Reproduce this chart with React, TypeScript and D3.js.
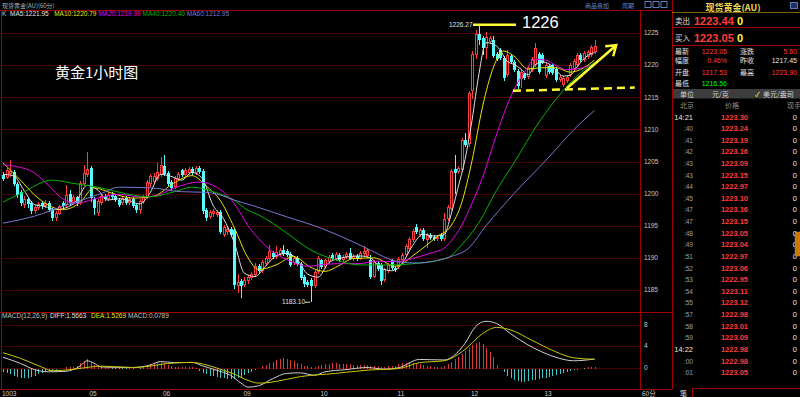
import React from 'react';
import * as d3 from 'd3';

// 60分钟K线: [开, 高, 低, 收]
const candles: number[][] = [
  [1202.9, 1203.3, 1201.9, 1202.2], [1202.5, 1204.0, 1202.2, 1203.7], [1203.0, 1205.2, 1202.6, 1203.5], [1203.3, 1203.6, 1201.2, 1201.5],
  [1201.5, 1201.8, 1199.3, 1199.8], [1200.2, 1200.5, 1198.0, 1198.5], [1198.2, 1199.6, 1197.8, 1199.2], [1199.2, 1199.5, 1197.7, 1198.4],
  [1198.5, 1198.8, 1196.8, 1197.3], [1197.3, 1198.2, 1196.9, 1197.9], [1197.8, 1198.7, 1197.4, 1198.4], [1198.5, 1198.8, 1197.6, 1198.0],
  [1198.0, 1199.0, 1197.7, 1198.6], [1198.6, 1198.9, 1197.2, 1197.5], [1197.4, 1197.7, 1195.8, 1196.2], [1196.2, 1197.3, 1195.7, 1197.0],
  [1196.9, 1198.3, 1196.6, 1198.0], [1198.6, 1198.9, 1197.6, 1198.0], [1198.2, 1201.3, 1197.9, 1199.8], [1199.9, 1200.5, 1198.3, 1198.6],
  [1198.6, 1199.8, 1198.2, 1199.4], [1199.4, 1199.7, 1198.1, 1198.5], [1198.6, 1202.0, 1198.3, 1201.6], [1201.5, 1204.5, 1201.2, 1203.2],
  [1202.9, 1206.5, 1202.6, 1203.9], [1204.0, 1204.3, 1198.7, 1199.3], [1199.2, 1199.5, 1196.7, 1197.8], [1197.0, 1199.2, 1196.5, 1198.8],
  [1198.6, 1200.0, 1198.3, 1199.6], [1199.6, 1200.0, 1198.9, 1199.2], [1199.2, 1200.2, 1198.9, 1199.8], [1199.8, 1200.3, 1199.2, 1199.5],
  [1199.7, 1200.0, 1198.7, 1199.0], [1199.0, 1199.3, 1197.9, 1198.3], [1198.5, 1199.6, 1198.2, 1199.3], [1199.3, 1199.6, 1198.3, 1198.6],
  [1198.6, 1199.5, 1198.3, 1199.1], [1199.1, 1199.4, 1197.8, 1198.1], [1198.2, 1198.5, 1197.0, 1197.5], [1197.5, 1199.2, 1196.8, 1198.9],
  [1198.7, 1199.8, 1198.4, 1199.4], [1199.4, 1202.1, 1199.1, 1201.8], [1201.5, 1203.0, 1201.1, 1202.7], [1201.8, 1203.2, 1201.5, 1202.8],
  [1202.3, 1204.8, 1202.0, 1203.4], [1202.9, 1205.7, 1202.6, 1204.4], [1204.3, 1206.0, 1202.8, 1203.1], [1203.2, 1203.5, 1201.2, 1201.5],
  [1201.8, 1202.1, 1200.4, 1200.9], [1201.0, 1202.7, 1200.7, 1202.4], [1202.2, 1203.3, 1201.9, 1203.0], [1203.6, 1203.9, 1202.6, 1202.9],
  [1202.9, 1204.0, 1202.6, 1203.6], [1203.2, 1204.2, 1202.9, 1203.9], [1203.8, 1204.1, 1202.9, 1203.2], [1203.2, 1204.3, 1202.9, 1204.0],
  [1204.0, 1204.3, 1203.0, 1203.3], [1203.5, 1203.8, 1196.9, 1197.3], [1197.4, 1197.7, 1195.8, 1196.2], [1196.3, 1197.4, 1196.0, 1197.1],
  [1196.8, 1197.6, 1196.4, 1197.3], [1196.6, 1197.5, 1196.3, 1197.2], [1197.1, 1197.4, 1193.7, 1194.0], [1193.6, 1195.1, 1193.3, 1194.8],
  [1194.0, 1194.8, 1193.6, 1194.5], [1194.5, 1194.8, 1193.2, 1193.5], [1194.3, 1194.6, 1185.1, 1185.8], [1185.6, 1187.5, 1184.5, 1186.3],
  [1186.4, 1186.7, 1183.8, 1185.7], [1185.8, 1187.0, 1185.4, 1186.6], [1186.4, 1187.4, 1186.0, 1187.0], [1186.8, 1187.8, 1186.5, 1187.5],
  [1187.4, 1189.2, 1187.1, 1188.8], [1188.8, 1189.1, 1187.5, 1187.9], [1188.0, 1189.6, 1187.7, 1189.3], [1189.0, 1190.3, 1188.7, 1190.0],
  [1189.8, 1192.0, 1189.5, 1191.0], [1190.8, 1191.1, 1189.8, 1190.1], [1190.2, 1191.8, 1189.9, 1190.9], [1190.6, 1191.6, 1190.3, 1191.3],
  [1191.3, 1192.0, 1190.3, 1190.6], [1191.1, 1191.4, 1190.1, 1190.4], [1190.6, 1190.9, 1188.6, 1188.9], [1189.2, 1190.3, 1188.9, 1190.0],
  [1190.0, 1190.3, 1188.7, 1189.0], [1189.0, 1189.3, 1186.6, 1186.9], [1187.0, 1187.3, 1185.5, 1186.0], [1186.2, 1186.6, 1185.4, 1185.8],
  [1186.6, 1186.9, 1183.1, 1185.6], [1185.6, 1188.1, 1185.3, 1187.8], [1187.8, 1190.3, 1187.5, 1190.0], [1189.6, 1189.9, 1188.3, 1188.6],
  [1188.6, 1189.9, 1188.3, 1189.6], [1189.4, 1190.4, 1189.1, 1190.1], [1190.5, 1190.8, 1189.5, 1189.8], [1189.8, 1190.9, 1189.5, 1190.6],
  [1190.4, 1190.7, 1189.3, 1189.6], [1189.6, 1190.5, 1189.3, 1190.2], [1190.1, 1190.9, 1189.8, 1190.6], [1190.8, 1191.5, 1189.6, 1189.9],
  [1189.8, 1190.6, 1189.5, 1190.3], [1190.3, 1190.6, 1189.5, 1189.8], [1189.9, 1191.1, 1189.6, 1190.8], [1190.6, 1191.8, 1190.3, 1191.1],
  [1190.3, 1191.5, 1190.0, 1191.2], [1189.6, 1190.5, 1186.7, 1187.0], [1187.1, 1189.6, 1186.8, 1189.3], [1189.2, 1189.5, 1187.9, 1188.2],
  [1188.9, 1189.2, 1185.8, 1186.4], [1186.5, 1188.5, 1186.2, 1188.2], [1188.0, 1189.2, 1187.7, 1188.9], [1189.6, 1189.9, 1188.1, 1188.4],
  [1188.5, 1188.8, 1187.8, 1188.1], [1188.6, 1190.1, 1188.3, 1189.8], [1189.6, 1190.8, 1189.3, 1190.5], [1190.5, 1192.2, 1190.2, 1191.9],
  [1191.4, 1193.3, 1191.1, 1193.0], [1192.8, 1194.5, 1192.5, 1194.2], [1194.8, 1195.3, 1193.7, 1194.0], [1193.5, 1194.7, 1193.2, 1194.4],
  [1194.3, 1194.6, 1192.6, 1192.9], [1192.8, 1193.9, 1191.5, 1193.6], [1193.6, 1193.9, 1192.8, 1193.1], [1193.3, 1193.6, 1192.6, 1192.9],
  [1192.9, 1193.6, 1192.6, 1193.3], [1193.5, 1193.8, 1192.6, 1192.9], [1192.9, 1197.0, 1192.6, 1196.0], [1196.0, 1198.2, 1195.7, 1197.9],
  [1197.6, 1203.8, 1197.3, 1203.5], [1203.8, 1206.0, 1200.0, 1203.2], [1203.3, 1204.3, 1203.0, 1204.0], [1203.7, 1208.6, 1203.4, 1208.3],
  [1208.3, 1209.5, 1207.2, 1207.5], [1207.8, 1216.0, 1207.2, 1215.6], [1216.0, 1222.2, 1214.8, 1221.8], [1221.5, 1225.5, 1221.0, 1224.8],
  [1224.8, 1226.27, 1223.2, 1223.9], [1224.2, 1224.5, 1221.5, 1222.7], [1222.6, 1225.2, 1221.0, 1224.3], [1223.6, 1224.6, 1223.3, 1224.2],
  [1223.9, 1224.5, 1221.1, 1221.4], [1221.8, 1222.1, 1220.6, 1220.9], [1222.3, 1222.6, 1220.8, 1221.1], [1221.1, 1221.4, 1217.5, 1218.0],
  [1218.4, 1222.3, 1218.1, 1221.6], [1221.4, 1221.7, 1220.2, 1220.5], [1220.5, 1220.8, 1218.9, 1219.2], [1219.1, 1219.4, 1216.3, 1216.7],
  [1217.9, 1219.2, 1216.5, 1218.9], [1218.7, 1219.0, 1217.7, 1218.0], [1218.1, 1219.8, 1217.8, 1219.5], [1219.3, 1221.3, 1219.0, 1221.0],
  [1220.0, 1223.5, 1219.7, 1222.6], [1221.8, 1222.1, 1218.6, 1218.9], [1221.6, 1221.9, 1220.1, 1220.4], [1218.3, 1220.3, 1218.0, 1220.0],
  [1219.8, 1220.1, 1218.6, 1218.9], [1220.0, 1220.3, 1218.5, 1218.8], [1219.4, 1219.7, 1217.4, 1217.7], [1217.7, 1218.5, 1217.4, 1218.2],
  [1216.9, 1218.3, 1216.56, 1218.0], [1217.5, 1218.5, 1217.2, 1218.2], [1218.4, 1220.3, 1218.1, 1220.0], [1219.4, 1220.9, 1219.1, 1220.6],
  [1220.0, 1221.9, 1219.7, 1221.6], [1221.6, 1221.9, 1220.5, 1220.8], [1220.8, 1222.2, 1220.5, 1221.9], [1221.3, 1222.4, 1221.0, 1222.1],
  [1221.6, 1223.1, 1221.3, 1222.8], [1222.1, 1223.9, 1221.8, 1223.05],
];

// 均线 (K线序号, 值) 读图得到
const ma5 = [[0, 1203.0], [3, 1202.8], [6, 1200.5], [9, 1198.3], [12, 1198.0], [15, 1197.5], [18, 1197.8], [21, 1198.9], [24, 1201.3], [27, 1200.6], [30, 1199.0], [33, 1199.2], [36, 1198.9], [39, 1198.4], [42, 1200.1], [45, 1203.0], [48, 1202.7], [51, 1202.1], [54, 1203.3], [57, 1202.3], [60, 1198.2], [63, 1196.1], [66, 1192.5], [69, 1187.6], [72, 1187.1], [75, 1188.7], [78, 1190.3], [81, 1190.7], [84, 1189.8], [87, 1187.5], [90, 1187.0], [93, 1189.2], [96, 1189.9], [99, 1190.2], [102, 1190.3], [105, 1190.0], [108, 1188.4], [111, 1188.0], [114, 1189.1], [117, 1191.9], [120, 1193.7], [123, 1193.4], [126, 1193.6], [128, 1196.7], [130, 1200.9], [132, 1205.3], [134, 1211.4], [136, 1218.7], [138, 1223.5], [140, 1223.3], [142, 1222.4], [144, 1220.6], [146, 1220.1], [148, 1219.4], [150, 1218.5], [152, 1220.0], [154, 1220.5], [156, 1220.2], [158, 1219.2], [160, 1218.3], [162, 1218.4], [164, 1219.7], [166, 1221.0], [168, 1221.8], [169, 1221.95]];
const ma10 = [[0, 1204.8], [5, 1202.1], [9, 1199.8], [13, 1198.2], [17, 1197.5], [22, 1198.6], [26, 1200.9], [31, 1200.1], [37, 1199.3], [43, 1199.6], [49, 1201.7], [54, 1202.8], [58, 1201.2], [62, 1199.0], [66, 1194.8], [70, 1190.0], [73, 1188.2], [78, 1188.9], [83, 1190.2], [88, 1188.5], [92, 1187.9], [96, 1188.8], [100, 1189.9], [106, 1190.0], [112, 1188.7], [118, 1190.7], [124, 1193.3], [128, 1195.0], [131, 1198.5], [134, 1205.1], [137, 1213.5], [140, 1219.5], [143, 1222.2], [146, 1221.4], [150, 1219.4], [154, 1219.6], [158, 1219.6], [162, 1218.9], [166, 1219.6], [169, 1220.79]];
const ma20 = [[0, 1204.5], [3, 1204.3], [9, 1203.2], [13, 1201.3], [17, 1199.2], [21, 1198.5], [27, 1199.3], [33, 1199.9], [39, 1199.5], [43, 1199.6], [49, 1200.9], [56, 1201.8], [61, 1201.0], [66, 1198.5], [70, 1195.0], [73, 1193.0], [77, 1191.0], [82, 1189.5], [87, 1188.7], [92, 1189.0], [97, 1189.1], [102, 1189.1], [107, 1189.5], [112, 1189.4], [117, 1189.9], [122, 1190.7], [126, 1191.5], [128, 1192.6], [131, 1195.0], [134, 1198.5], [137, 1202.5], [140, 1207.5], [143, 1212.3], [146, 1216.2], [149, 1218.9], [152, 1220.9], [155, 1220.8], [158, 1219.9], [161, 1219.3], [164, 1219.4], [167, 1219.8], [169, 1219.99]];
const ma40 = [[0, 1198.7], [5, 1200.0], [14, 1202.1], [20, 1201.6], [28, 1200.9], [35, 1200.0], [42, 1199.5], [49, 1200.3], [54, 1201.0], [60, 1200.3], [66, 1199.0], [70, 1197.4], [73, 1196.7], [81, 1193.9], [88, 1191.2], [95, 1189.7], [102, 1188.9], [110, 1188.9], [119, 1189.2], [127, 1190.0], [131, 1192.0], [136, 1195.5], [141, 1200.5], [146, 1204.8], [153, 1211.0], [160, 1216.0], [165, 1218.8], [169, 1220.4]];
const ma60 = [[0, 1195.4], [9, 1196.5], [18, 1198.2], [28, 1200.0], [33, 1201.0], [42, 1200.9], [51, 1200.3], [58, 1200.2], [62, 1199.8], [66, 1199.0], [71, 1198.2], [81, 1196.4], [91, 1194.6], [100, 1192.5], [105, 1191.2], [110, 1189.9], [114, 1189.3], [119, 1189.2], [124, 1189.6], [128, 1190.2], [133, 1191.5], [138, 1195.0], [146, 1200.0], [156, 1205.7], [163, 1209.9], [169, 1212.95]];

// MACD(12,26,9)
const diff = [[0, 1.9], [5, 0.75], [9, -0.4], [13, -0.8], [18, -0.7], [22, 0.25], [24, 1.25], [26, 0.8], [28, 0.1], [37, 0.0], [42, 0.45], [45, 1.1], [49, 0.9], [54, 0.95], [57, 0.3], [61, -0.5], [65, -1.45], [68, -2.9], [70, -3.65], [73, -3.4], [77, -2.1], [81, -1.1], [85, -1.0], [89, -1.45], [92, -0.8], [98, -0.4], [104, 0.0], [109, -0.3], [113, -0.05], [119, 1.5], [126, 1.4], [130, 2.9], [132, 4.5], [135, 7.6], [138, 8.6], [141, 8.2], [145, 6.3], [150, 4.2], [154, 2.9], [159, 1.7], [163, 1.25], [169, 1.5663]];
const dea = [[0, 2.75], [5, 1.7], [11, 0.1], [14, -0.6], [20, -0.35], [25, 0.1], [28, 0.25], [37, 0.0], [42, 0.25], [47, 0.75], [54, 0.95], [58, 0.5], [62, -0.3], [66, -1.2], [70, -2.4], [73, -2.9], [76, -2.8], [81, -2.2], [85, -1.7], [95, -1.1], [104, -0.5], [113, -0.2], [119, 0.9], [126, 1.25], [132, 3.35], [137, 6.3], [141, 7.45], [145, 7.0], [151, 5.1], [158, 2.9], [163, 1.8], [169, 1.5269]];
const macdBars = [
  -0.8, -1.0, -1.2, -1.5, -1.8, -2.0, -2.0, -1.9, -1.7, -1.5, -1.2, -1.0, -0.8, -0.7, -0.6, -0.5, -0.35, -0.2, 0.1, 0.15,
  0.15, 0.3, 0.8, 1.3, 1.5, 1.1, 0.5, 0.3, 0.2, 0.1, 0.05, -0.05, -0.1, -0.15, -0.1, -0.1, 0.05, -0.1, -0.2, -0.1,
  0.05, 0.3, 0.6, 0.8, 1.0, 1.1, 0.9, 0.5, 0.2, 0.15, 0.1, 0.1, 0.05, 0.1, 0.05, 0.0, -0.6, -1.0, -1.3, -1.5,
  -1.6, -1.7, -1.9, -2.0, -2.1, -2.1, -2.2, -2.0, -1.7, -1.4, -1.1, -0.8, -0.5, -0.2, 0.2, 0.5, 0.8, 1.1, 1.4, 1.6,
  1.7, 1.6, 1.4, 1.2, 0.9, 0.6, 0.3, 0.2, 0.1, 0.15, 0.3, 0.5, 0.6, 0.7, 0.8, 0.8, 0.7, 0.7, 0.6, 0.6,
  0.5, 0.5, 0.4, 0.4, 0.4, 0.3, 0.2, 0.2, 0.15, 0.15, 0.2, 0.2, 0.2, 0.6, 0.8, 0.9, 1.0, 0.9, 0.8, 0.6,
  0.4, 0.3, 0.2, 0.15, 0.1, 0.1, 0.3, 0.6, 1.0, 1.5, 2.0, 2.6, 3.1, 3.6, 4.2, 4.6, 4.8, 4.3, 3.6, 2.8,
  1.9, 0.4, -0.3, -0.9, -1.5, -2.0, -2.4, -2.6, -2.7, -2.7, -2.6, -2.4, -2.3, -2.2, -2.0, -1.9, -1.7, -1.6, -1.4, -1.2,
  -1.0, -0.9, -0.7, -0.5, -0.4, -0.25, -0.1, 0.02, 0.05, 0.08,
];

const priceTicks = [1185, 1190, 1195, 1200, 1205, 1210, 1215, 1220, 1225];
const macdTicks = [0, 4, 8];
const dayLabels = ['1003', '05', '06', '09', '10', '11', '12', '13'];
const dayStarts = [0, 25, 46, 69, 91, 113, 134, 155];

const maNames = ['MA5', 'MA10', 'MA20', 'MA40', 'MA60'];
const maLast = [1221.95, 1220.79, 1219.99, 1220.4, 1212.95];
const maColors = ['#e0e0e0', '#e6e600', '#e600e6', '#00b400', '#7878d2'];

// 右侧盘口
const quoteLabels = ['最新', '幅度', '开盘', '最低'];
const quoteValues = ['1223.05', '0.46%', '1217.53', '1216.56'];
const quoteLabels2 = ['涨跌', '昨收', '最高'];
const quoteValues2 = ['5.60', '1217.45', '1223.90'];
const tickTimes = ['14:21', ':40', ':41', ':42', ':43', ':43', ':44', ':45', ':47', ':47', ':48', ':49', ':51', ':52', ':53', ':54', ':55', ':57', ':58', ':59', '14:22', ':00', ':01'];
const tickPrices = [1223.30, 1223.24, 1223.19, 1223.16, 1223.09, 1223.15, 1222.97, 1223.10, 1223.16, 1223.15, 1223.05, 1223.04, 1222.97, 1223.06, 1222.95, 1223.11, 1223.12, 1222.98, 1223.01, 1223.09, 1222.98, 1222.98, 1223.05];

// 手绘标注 (K线序号, 价格)
const supportLine = [[145.7, 1216.0], [180.5, 1216.5]];
const trendArrow = [[161.1, 1216.4], [175.2, 1223.1]];

const RED = '#ff3c3c';
const CYAN = '#54ffff';
const GRID = '#4a0000';
const BORDER = '#a00000';
const SANS = 'Liberation Sans, Arial, sans-serif';
const CJK = 'Noto Sans CJK SC, sans-serif';

export default function App() {
  const n = candles.length;
  const x = d3.scaleLinear().domain([0, n - 1]).range([3, 594.5]);
  const y = d3.scaleLinear().domain([1185, 1225]).range([290, 33]);
  const ym = d3.scaleLinear().domain([0, 8]).range([367.5, 324.5]);
  const maLine = d3.line<number[]>().x(d => x(d[0])).y(d => y(d[1])).curve(d3.curveMonotoneX);
  const mLine = d3.line<number[]>().x(d => x(d[0])).y(d => ym(d[1])).curve(d3.curveMonotoneX);
  const fmt = d3.format('.2f');

  const hiIdx = d3.maxIndex(candles, d => d[1]);
  const loIdx = d3.minIndex(candles, d => d[2]);
  const zeroY = Math.round(ym(0)) + 0.5;

  return (
    <svg width={800} height={397} style={{ position: 'fixed', left: 0, top: 0, background: '#000' }}>
      <defs>
        <clipPath id="main"><rect x={0} y={20} width={640} height={291} /></clipPath>
      </defs>
      <rect width={800} height={397} fill="#000" />

      {/* 标题栏 */}
      <text x={2} y={7.5} fontSize={6} fill="#b0b0b0" fontFamily={CJK}>现货黄金(AU)(60分)</text>
      <text x={585} y={7.5} fontSize={6} fill="#6a8cc8" fontFamily={CJK}>商品叠加</text>
      <text x={622} y={7.5} fontSize={6} fill="#6a8cc8" fontFamily={CJK}>周期</text>
      {[0, 1, 2].map(k => (
        <rect key={k} x={645 + k * 8} y={1.5} width={6} height={6} fill="none" stroke="#5a7cb8" />
      ))}
      <line x1={0} x2={672} y1={10.5} y2={10.5} stroke={BORDER} />
      <line x1={1.5} x2={1.5} y1={11} y2={389} stroke="#303030" />

      {/* 均线图例 */}
      <text y={16} fontSize={6.5} fontFamily={SANS}>
        <tspan x={2} fill="#c0c0c0">K</tspan>
        {maNames.map((m, k) => (
          <tspan key={m} x={10 + k * 44.2} fill={maColors[k]}>{`${m}:${fmt(maLast[k])}`}</tspan>
        ))}
      </text>

      {/* 主图网格 */}
      {priceTicks.map(t => (
        <g key={t}>
          <line x1={2} x2={640} y1={Math.round(y(t)) + 0.5} y2={Math.round(y(t)) + 0.5} stroke={GRID} />
          <text x={644} y={y(t) + 2.3} fontSize={6.5} fill="#c8c8c8" fontFamily={SANS}>{t}</text>
        </g>
      ))}

      {/* K线 */}
      <g shapeRendering="crispEdges">
        {candles.map(([o, h, l, c], i) => {
          const cx = Math.round(x(i)) + 0.5;
          const up = c >= o;
          const col = up ? RED : CYAN;
          const top = Math.round(y(Math.max(o, c)));
          const bot = Math.round(y(Math.min(o, c)));
          return (
            <g key={i}>
              <line x1={cx} x2={cx} y1={y(h)} y2={y(l)} stroke={col} />
              {up ? (
                bot - top > 1
                  ? <rect x={cx - 1} y={top + 0.5} width={2} height={bot - top - 1} fill="#000" stroke={col} />
                  : <line x1={cx - 1.5} x2={cx + 1.5} y1={top + 0.5} y2={top + 0.5} stroke={col} />
              ) : (
                <rect x={cx - 1.5} y={top} width={3} height={Math.max(bot - top, 1)} fill={col} />
              )}
            </g>
          );
        })}
      </g>

      {/* 均线 */}
      <g clipPath="url(#main)" fill="none" strokeWidth={1}>
        {[ma5, ma10, ma20, ma40, ma60].map((d, k) => (
          <path key={k} d={maLine(d) || ''} stroke={maColors[k]} />
        ))}
      </g>

      {/* 最高最低标注 */}
      <text x={x(hiIdx) - 30} y={y(candles[hiIdx][1]) + 2} fontSize={6.5} fill="#e0e0e0" fontFamily={SANS}>{fmt(candles[hiIdx][1])}</text>
      <line x1={x(hiIdx) - 6} x2={x(hiIdx) + 37} y1={y(candles[hiIdx][1])} y2={y(candles[hiIdx][1])} stroke="#ffff33" strokeWidth={2.5} />
      <text x={x(hiIdx) + 43} y={28} fontSize={16.5} fill="#ffffff" fontFamily={SANS}>1226</text>
      <text x={x(loIdx) - 29} y={y(candles[loIdx][2]) + 2} fontSize={6.5} fill="#e0e0e0" fontFamily={SANS}>{fmt(candles[loIdx][2])}</text>
      <line x1={x(loIdx) - 6} x2={x(loIdx) - 1} y1={y(candles[loIdx][2])} y2={y(candles[loIdx][2])} stroke="#e0e0e0" />

      {/* 手绘支撑线和箭头 */}
      <line x1={x(supportLine[0][0])} y1={y(supportLine[0][1])} x2={x(supportLine[1][0])} y2={y(supportLine[1][1])}
        stroke="#ffff33" strokeWidth={2.5} strokeDasharray="8 5" />
      <line x1={x(trendArrow[0][0])} y1={y(trendArrow[0][1])} x2={x(trendArrow[1][0])} y2={y(trendArrow[1][1])}
        stroke="#ffff33" strokeWidth={2.5} />
      <polyline
        points={`${x(trendArrow[1][0]) - 11},${y(trendArrow[1][1]) + 1} ${x(trendArrow[1][0])},${y(trendArrow[1][1])} ${x(trendArrow[1][0]) - 3},${y(trendArrow[1][1]) + 11}`}
        fill="none" stroke="#ffff33" strokeWidth={2.5} />

      <text x={55} y={78} fontSize={15} fill="#ffffff" fontFamily={CJK}>黄金1小时图</text>

      {/* MACD 副图 */}
      <line x1={0} x2={672} y1={312.5} y2={312.5} stroke={BORDER} />
      {macdTicks.map(t => (
        <g key={t}>
          <line x1={2} x2={640} y1={Math.round(ym(t)) + 0.5} y2={Math.round(ym(t)) + 0.5} stroke={GRID} />
          <text x={644} y={ym(t) + 2.3} fontSize={6.5} fill="#c8c8c8" fontFamily={SANS}>{t}</text>
        </g>
      ))}
      <g shapeRendering="crispEdges">
        {macdBars.map((v, i) => (
          <line key={i} x1={Math.round(x(i)) + 0.5} x2={Math.round(x(i)) + 0.5} y1={zeroY}
            y2={ym(v)} stroke={v >= 0 ? '#d83a3a' : '#3cc8c8'} />
        ))}
      </g>
      <path d={mLine(diff) || ''} fill="none" stroke="#d0d0d0" />
      <path d={mLine(dea) || ''} fill="none" stroke="#c8c800" />
      <text y={318} fontSize={6.5} fontFamily={SANS}>
        <tspan x={2} fill="#c0c0c0">MACD(12,26,9)</tspan>
        <tspan x={50} fill="#e0e0e0">DIFF:1.5663</tspan>
        <tspan x={91} fill="#e6e600">DEA:1.5269</tspan>
        <tspan x={128} fill="#c0c0c0">MACD:0.0789</tspan>
      </text>

      {/* 时间轴 */}
      <line x1={0} x2={672} y1={389.5} y2={389.5} stroke={BORDER} />
      {dayLabels.map((d, k) => (
        <text key={d} x={x(dayStarts[k]) - 1} y={395.5} fontSize={6.5} fill="#c8c8c8" fontFamily={SANS}>{d}</text>
      ))}
      <text x={642} y={395.5} fontSize={6.5} fill="#c8c8c8" fontFamily={CJK}>60分</text>

      {/* 纵轴边框 */}
      <line x1={640.5} x2={640.5} y1={10} y2={389} stroke={BORDER} />
      <line x1={672.5} x2={672.5} y1={0} y2={389} stroke={BORDER} />

      {/* 右侧盘口 */}
      <text x={733} y={10.5} fontSize={9} fontWeight="bold" fill="#f0d850" textAnchor="middle" fontFamily={CJK}>现货黄金(AU)</text>
      <rect x={790.5} y={2.5} width={7} height={6} fill="#203060" stroke="#5a7cb8" />
      <line x1={672} x2={800} y1={12.5} y2={12.5} stroke="#806000" />
      <text x={675} y={24} fontSize={7.5} fill="#e0e0e0" fontFamily={CJK}>卖出</text>
      <text x={694} y={25} fontSize={11} fontWeight="bold" fill={RED} fontFamily={SANS}>1223.44</text>
      <text x={737} y={25} fontSize={11} fontWeight="bold" fill="#ffff33" fontFamily={SANS}>0</text>
      <line x1={672} x2={800} y1={27.5} y2={27.5} stroke={BORDER} />
      <text x={675} y={41} fontSize={7.5} fill="#e0e0e0" fontFamily={CJK}>买入</text>
      <text x={694} y={42} fontSize={11} fontWeight="bold" fill={RED} fontFamily={SANS}>1223.05</text>
      <text x={737} y={42} fontSize={11} fontWeight="bold" fill="#ffff33" fontFamily={SANS}>0</text>
      <line x1={672} x2={800} y1={45.5} y2={45.5} stroke={BORDER} />
      {quoteLabels.map((q, k) => {
        const ry = [54, 62.5, 74.5, 85.5][k];
        return (
          <g key={q}>
            <text x={675} y={ry} fontSize={7} fill="#e0e0e0" fontFamily={CJK}>{q}</text>
            <text x={727} y={ry} fontSize={7} textAnchor="end" fill={k === 3 ? '#00ff00' : RED} fontFamily={SANS}>{quoteValues[k]}</text>
            {k < 3 && <text x={740} y={ry} fontSize={7} fill="#e0e0e0" fontFamily={CJK}>{quoteLabels2[k]}</text>}
            {k < 3 && <text x={797} y={ry} fontSize={7} textAnchor="end" fill={k === 1 ? '#e0e0e0' : RED} fontFamily={SANS}>{quoteValues2[k]}</text>}
          </g>
        );
      })}
      <rect x={673} y={89} width={127} height={9.5} fill="#3c3c3c" />
      <text x={680} y={96.5} fontSize={7} fill="#d0d0d0" fontFamily={CJK}>单位</text>
      <text x={712} y={96.5} fontSize={7} fill="#d0d0d0" fontFamily={CJK}>元/克</text>
      <text x={755} y={96.5} fontSize={7} fill="#ffff33" fontFamily={CJK}>✓</text>
      <text x={763} y={96.5} fontSize={7} fill="#d0d0d0" fontFamily={CJK}>美元/盎司</text>
      <text x={680} y={107.5} fontSize={7} fill="#8c8c8c" fontFamily={CJK}>北京</text>
      <text x={725} y={107.5} fontSize={7} fill="#8c8c8c" fontFamily={CJK}>价格</text>
      <text x={787} y={107.5} fontSize={7} fill="#8c8c8c" fontFamily={CJK}>现手</text>
      {tickTimes.map((t, k) => {
        const ry = 119.5 + k * 11.62;
        const full = t.length > 3;
        return (
          <g key={k}>
            <text x={693} y={ry} fontSize={full ? 7.5 : 6.5} textAnchor="end" fill={full ? '#e8e8e8' : '#a0a0a0'} fontFamily={SANS}>{t}</text>
            <text x={748} y={ry} fontSize={7.5} textAnchor="end" fill={RED} fontWeight="bold" fontFamily={SANS}>{fmt(tickPrices[k])}</text>
            <text x={797} y={ry} fontSize={7.5} textAnchor="end" fill="#e8e8e8" fontFamily={SANS}>0</text>
          </g>
        );
      })}
      <rect x={795} y={232} width={5} height={24} fill="#c87800" stroke="#909090" strokeWidth={0.5} />

      {/* 底部标签 */}
      <line x1={692} x2={800} y1={388.5} y2={388.5} stroke={BORDER} />
      <line x1={692.5} x2={692.5} y1={388.5} y2={397} stroke={BORDER} />
      <text x={680} y={395.5} fontSize={7} fill="#e0e0e0" fontFamily={CJK}>笔</text>
    </svg>
  );
}
